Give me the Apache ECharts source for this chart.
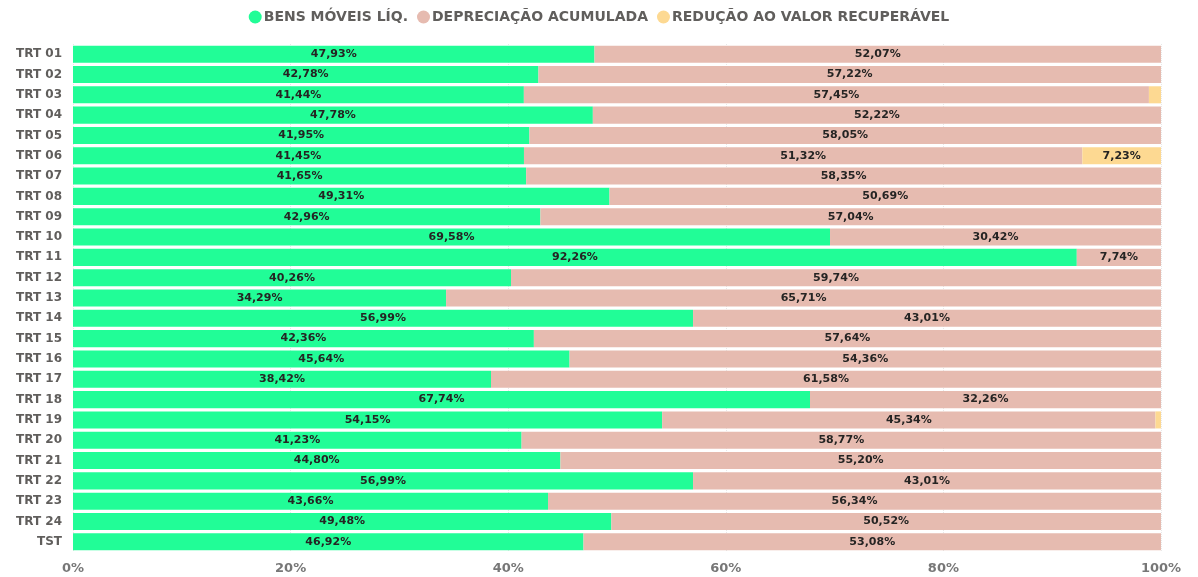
<!DOCTYPE html>
<html>
<head>
<meta charset="utf-8">
<script src="https://cdn.jsdelivr.net/npm/echarts@6/dist/echarts.min.js"></script>
<style>
  html, body { margin: 0; padding: 0; background: #fff; }
  #chart { width: 1198px; height: 577px; }
</style>
</head>
<body>
<div id="chart"></div>
<script>
var categorias = ['TRT 01','TRT 02','TRT 03','TRT 04','TRT 05','TRT 06','TRT 07','TRT 08','TRT 09','TRT 10',
  'TRT 11','TRT 12','TRT 13','TRT 14','TRT 15','TRT 16','TRT 17','TRT 18','TRT 19','TRT 20',
  'TRT 21','TRT 22','TRT 23','TRT 24','TST'];
var bensMoveis = [47.93,42.78,41.44,47.78,41.95,41.45,41.65,49.31,42.96,69.58,
  92.26,40.26,34.29,56.99,42.36,45.64,38.42,67.74,54.15,41.23,
  44.80,56.99,43.66,49.48,46.92];
var depreciacao = [52.07,57.22,57.45,52.22,58.05,51.32,58.35,50.69,57.04,30.42,
  7.74,59.74,65.71,43.01,57.64,54.36,61.58,32.26,45.34,58.77,
  55.20,43.01,56.34,50.52,53.08];
var reducao = [0,0,1.11,0,0,7.23,0,0,0,0,
  0,0,0,0,0,0,0,0,0.51,0,
  0,0,0,0,0];
var ticksX = [0, 20, 40, 60, 80, 100];

var fonte = '"DejaVu Sans", "Open Sans", sans-serif';

function rotulo(p) {
  if (p.value < 5) return '';
  return p.value.toFixed(2).replace('.', ',') + '%';
}

function serie(nome, dados, cor) {
  return {
    name: nome,
    type: 'bar',
    stack: 'total',
    data: dados,
    barCategoryGap: '16%',
    itemStyle: { color: cor },
    label: {
      show: true,
      position: 'inside',
      formatter: rotulo,
      color: '#252423',
      fontFamily: fonte,
      fontWeight: 'bold',
      fontSize: 11
    },
    emphasis: { disabled: true }
  };
}

var chart = echarts.init(document.getElementById('chart'));
chart.setOption({
  animation: false,
  legend: {
    top: 5,
    left: 'center',
    icon: 'circle',
    itemWidth: 13,
    itemHeight: 13,
    itemGap: 9,
    textStyle: { color: '#605e5c', fontFamily: fonte, fontWeight: 'bold', fontSize: 14, padding: [0, 0, 0, -3] },
    data: ['BENS MÓVEIS LÍQ.', 'DEPRECIAÇÃO ACUMULADA', 'REDUÇÃO AO VALOR RECUPERÁVEL']
  },
  grid: { left: 73, right: 37, top: 44, bottom: 25, containLabel: false },
  xAxis: {
    type: 'value',
    min: 0,
    max: 100,
    interval: 20,
    axisLine: { show: false },
    axisTick: { show: false },
    splitLine: { show: true, lineStyle: { color: '#e8e8e8', type: 'dotted' } },
    axisLabel: {
      color: '#777',
      fontFamily: fonte,
      fontWeight: 'bold',
      fontSize: 13,
      margin: 10,
      formatter: function (v) { return ticksX.indexOf(v) >= 0 ? v + '%' : ''; }
    }
  },
  yAxis: {
    type: 'category',
    inverse: true,
    data: categorias,
    axisLine: { show: false },
    axisTick: { show: false },
    axisLabel: {
      color: '#605e5c',
      fontFamily: fonte,
      fontWeight: 'bold',
      fontSize: 12,
      margin: 11
    }
  },
  series: [
    serie('BENS MÓVEIS LÍQ.', bensMoveis, '#21fd97'),
    serie('DEPRECIAÇÃO ACUMULADA', depreciacao, '#e6bbb0'),
    serie('REDUÇÃO AO VALOR RECUPERÁVEL', reducao, '#fdd992')
  ]
});
</script>
</body>
</html>
